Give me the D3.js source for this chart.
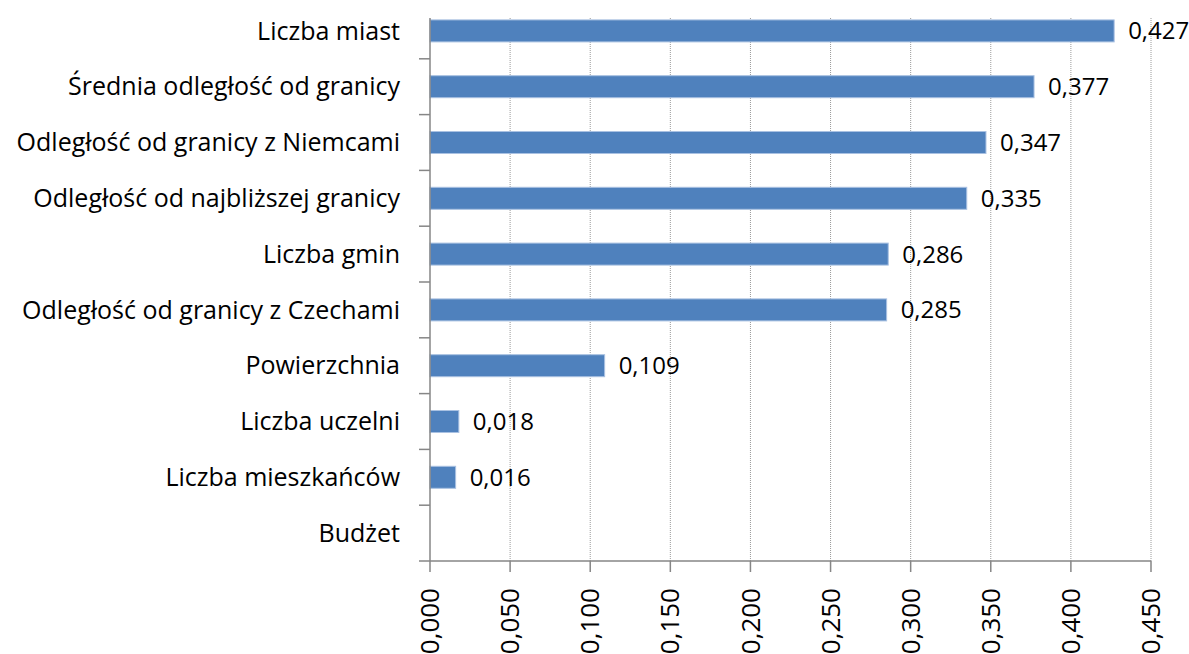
<!DOCTYPE html>
<html>
<head>
<meta charset="utf-8">
<script src="https://cdn.jsdelivr.net/npm/d3@7"></script>
<style>
  body { margin: 0; background: #fff; }
  svg text { font-family: "Open Sans", "Noto Sans", sans-serif; fill: #000; }
</style>
</head>
<body>
<svg width="1189" height="654"></svg>
<script>
// categories, top to bottom
const categories = [
  "Liczba miast",
  "Średnia odległość od granicy",
  "Odległość od granicy z Niemcami",
  "Odległość od najbliższej granicy",
  "Liczba gmin",
  "Odległość od granicy z Czechami",
  "Powierzchnia",
  "Liczba uczelni",
  "Liczba mieszkańców",
  "Budżet"
];
const values = [0.427, 0.377, 0.347, 0.335, 0.286, 0.285, 0.109, 0.018, 0.016, null];
const xTicks = [0, 0.05, 0.1, 0.15, 0.2, 0.25, 0.3, 0.35, 0.4, 0.45];

const svg = d3.select("svg");
const left = 430, right = 1151, bandTop = 3, plotTop = 18, bottom = 561;

const fmt = v => d3.format(".3f")(v).replace(".", ",");

const x = d3.scaleLinear().domain([0, 0.45]).range([left, right]);
const y = d3.scaleBand().domain(categories).range([bandTop, bottom]).paddingInner(0).paddingOuter(0);
const barH = 22;

// dotted gridlines
svg.append("g").selectAll("line")
  .data(xTicks.slice(1))
  .join("line")
  .attr("x1", d => x(d)).attr("x2", d => x(d))
  .attr("y1", plotTop).attr("y2", bottom)
  .attr("stroke", "#9a9a9a")
  .attr("stroke-width", 1)
  .attr("stroke-dasharray", "1,1");

// bars
const data = categories.map((c, i) => ({ name: c, value: values[i] }));
svg.append("g").selectAll("rect")
  .data(data.filter(d => d.value != null))
  .join("rect")
  .attr("x", x(0))
  .attr("y", d => y(d.name) + y.bandwidth() / 2 - barH / 2)
  .attr("width", d => x(d.value) - x(0))
  .attr("height", barH)
  .attr("fill", "#4f81bd")
  .attr("stroke", "#a9c1e2")
  .attr("stroke-width", 1);

// value labels
svg.append("g").selectAll("text")
  .data(data.filter(d => d.value != null))
  .join("text")
  .attr("x", d => x(d.value) + 14)
  .attr("y", d => y(d.name) + y.bandwidth() / 2)
  .attr("dy", "0.35em")
  .style("font-size", "24px")
  .text(d => fmt(d.value));

// y axis
const yAxis = svg.append("g");
yAxis.append("line")
  .attr("x1", left).attr("x2", left)
  .attr("y1", plotTop).attr("y2", bottom)
  .attr("stroke", "#868686").attr("stroke-width", 1.5);
yAxis.selectAll("line.tick")
  .data(categories.slice(1))
  .join("line")
  .attr("class", "tick")
  .attr("x1", left - 11).attr("x2", left)
  .attr("y1", d => y(d)).attr("y2", d => y(d))
  .attr("stroke", "#868686").attr("stroke-width", 1.5);
yAxis.selectAll("text")
  .data(categories)
  .join("text")
  .attr("x", 400)
  .attr("y", d => y(d) + y.bandwidth() / 2)
  .attr("dy", "0.35em")
  .attr("text-anchor", "end")
  .style("font-size", "25px")
  .text(d => d);

// x axis
const xAxis = svg.append("g");
xAxis.append("line")
  .attr("x1", left - 11).attr("x2", right)
  .attr("y1", bottom).attr("y2", bottom)
  .attr("stroke", "#868686").attr("stroke-width", 1.5);
xAxis.selectAll("line.tick")
  .data(xTicks)
  .join("line")
  .attr("class", "tick")
  .attr("x1", d => x(d)).attr("x2", d => x(d))
  .attr("y1", bottom).attr("y2", bottom + 11)
  .attr("stroke", "#868686").attr("stroke-width", 1.5);
xAxis.selectAll("text")
  .data(xTicks)
  .join("text")
  .attr("transform", d => `translate(${x(d)},588) rotate(-90)`)
  .attr("dy", "0.35em")
  .attr("text-anchor", "end")
  .style("font-size", "26px")
  .text(d => fmt(d));
</script>
</body>
</html>
